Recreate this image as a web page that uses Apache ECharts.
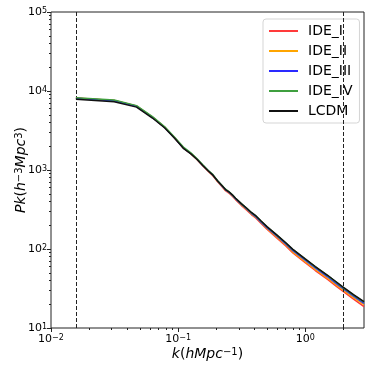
<!DOCTYPE html>
<html>
<head>
<meta charset="utf-8">
<script src="https://cdn.jsdelivr.net/npm/echarts@6/dist/echarts.min.js"></script>
<style>
  html, body { margin: 0; padding: 0; background: #fff; }
  #chart { width: 374px; height: 374px; }
</style>
</head>
<body>
<div id="chart"></div>
<script>
// wavenumbers k (h/Mpc)
const k = [0.0157, 0.0314, 0.0471, 0.0628, 0.0785, 0.0942, 0.110, 0.126, 0.141, 0.157,
  0.173, 0.188, 0.204, 0.220, 0.236, 0.251, 0.267, 0.283, 0.314, 0.345,
  0.377, 0.41, 0.45, 0.5, 0.6, 0.7, 0.8, 1.0, 1.2, 1.5, 1.75, 2.0, 2.4, 2.9];

const ideI = [8160, 7590, 6440, 4660, 3470, 2540, 1900, 1610, 1360, 1124,
  960, 847, 715, 624, 548, 511, 467, 422, 357, 312,
  273, 245, 210, 178, 137, 110, 89, 67, 53.4, 41.2, 33.9, 28.8, 23.2, 18.6];
const ideII = [8125, 7570, 6420, 4650, 3460, 2530, 1900, 1610, 1362, 1128,
  965, 853, 722, 632, 556, 519, 474, 429, 364, 319,
  279, 250, 215, 182, 141, 113, 91.5, 69, 55, 42.6, 35.2, 29.9, 24.2, 19.7];
const ideIII = [8085, 7520, 6400, 4640, 3450, 2530, 1905, 1615, 1370, 1135,
  972, 860, 728, 636, 561, 525, 479, 433, 368, 323,
  283, 255, 219, 186, 145, 117, 95, 72, 57.5, 44.5, 36.8, 31.2, 25.3, 20.5];
const ideIV = [8240, 7700, 6530, 4730, 3520, 2575, 1950, 1650, 1387, 1153,
  985, 873, 737, 646, 571, 533, 487, 440, 375, 329,
  289, 261, 225, 191, 149, 120, 98, 74.3, 59.3, 45.9, 38, 32.2, 26.1, 21.2];
const lcdm = [7850, 7330, 6250, 4550, 3400, 2500, 1883, 1600, 1360, 1130,
  970, 860, 730, 640, 565, 530, 485, 440, 375, 330,
  290, 262, 226, 192, 150, 121, 99, 75, 60, 46.5, 38.5, 32.7, 26.5, 21.5];

const names = ['IDE_I', 'IDE_II', 'IDE_III', 'IDE_IV', 'LCDM'];
const colors = ['#ff3a3a', '#ffa500', '#2a2aff', '#3f9f3f', '#111111'];

// axis ranges and ticks
const xMin = 0.01, xMax = 2.9;
const yMin = 10, yMax = 1e5;
const xMajor = [0.01, 0.1, 1];
const yMajor = [10, 100, 1000, 10000, 100000];
const kCut = [0.0157, 2.0];

// decades above the lower axis limit, so that 0 sits on the left / bottom edge
const lx = v => Math.log10(v / xMin);
const ly = v => Math.log10(v / yMin);

function minors(lo, hi, f) {
  const out = [];
  for (let d = Math.floor(Math.log10(lo)); d <= Math.ceil(Math.log10(hi)); d++) {
    for (let m = 2; m <= 9; m++) {
      const v = m * Math.pow(10, d);
      if (v > lo && v < hi) out.push(f(v));
    }
  }
  return out;
}

const FONT = 'DejaVu Sans';
const tickRich = {
  b: { fontSize: 11, fontFamily: FONT, color: '#000', padding: [5, 0, 0, 0], lineHeight: 11, verticalAlign: 'bottom' },
  s: { fontSize: 8, fontFamily: FONT, color: '#000', lineHeight: 8, verticalAlign: 'top' }
};
const pow = e => '{b|10}{s|' + String(Math.round(e)).replace('-', '\u2212') + '}';

const nameRich = {
  n: { fontSize: 14, fontFamily: FONT, fontStyle: 'italic', color: '#000', padding: [5, 0, 0, 0], lineHeight: 14, verticalAlign: 'bottom' },
  p: { fontSize: 14, fontFamily: FONT, color: '#000', padding: [5, 0, 0, 0], lineHeight: 14, verticalAlign: 'bottom' },
  s: { fontSize: 10, fontFamily: FONT, color: '#000', lineHeight: 10, verticalAlign: 'top' }
};

const valueSets = [ideI, ideII, ideIII, ideIV, lcdm];
const series = valueSets.map((vals, i) => ({
  name: names[i],
  type: 'line',
  xAxisIndex: 0,
  yAxisIndex: 0,
  data: k.map((kv, j) => [lx(kv), ly(vals[j])]),
  showSymbol: false,
  symbol: 'none',
  lineStyle: { width: 1.5, color: colors[i] },
  itemStyle: { color: colors[i] },
  z: 2 + i
}));
series[4].markLine = {
  silent: true,
  symbol: 'none',
  label: { show: false },
  lineStyle: { color: '#222', type: [4, 2], width: 1 },
  data: kCut.map(v => ({ xAxis: lx(v) }))
};

const option = {
  animation: false,
  backgroundColor: '#fff',
  grid: {
    left: 51, right: 10, top: 12, bottom: 46,
    outerBoundsMode: 'none',
    show: true, borderColor: '#222', borderWidth: 1, backgroundColor: 'transparent'
  },
  legend: {
    data: names,
    orient: 'vertical',
    left: 263,
    top: 19,
    padding: [5, 7, 5, 6],
    itemWidth: 29,
    itemHeight: 2,
    itemGap: 6,
    icon: 'rect',
    backgroundColor: 'rgba(255,255,255,0.85)',
    borderColor: '#d5d5d5',
    borderWidth: 1,
    borderRadius: 3,
    textStyle: { fontFamily: FONT, fontSize: 14, color: '#000', lineHeight: 14, padding: [0, 0, 0, 5] }
  },
  xAxis: [
    {
      type: 'value', min: 0, max: lx(xMax), position: 'bottom',
      splitLine: { show: false },
      axisLine: { show: false, onZero: true, onZeroAxisIndex: 0 },
      axisTick: { show: true, length: 4, lineStyle: { color: '#222' }, customValues: xMajor.map(lx) },
      axisLabel: { show: true, margin: 6, formatter: v => pow(v + Math.log10(xMin)), rich: tickRich, customValues: xMajor.map(lx) },
      name: '{n|k}{p|(}{n|hMpc}{s|\u22121}{p|)}',
      nameLocation: 'middle',
      nameGap: 19,
      nameMoveOverlap: false,
      nameTextStyle: { rich: nameRich }
    },
    {
      type: 'value', min: 0, max: lx(xMax), position: 'bottom',
      splitLine: { show: false },
      axisLine: { show: false, onZero: true, onZeroAxisIndex: 0 },
      axisTick: { show: true, length: 2, lineStyle: { color: '#222' }, customValues: minors(xMin, xMax, lx) },
      axisLabel: { show: false }
    }
  ],
  yAxis: [
    {
      type: 'value', min: 0, max: ly(yMax), position: 'left',
      splitLine: { show: false },
      axisLine: { show: false, onZero: true, onZeroAxisIndex: 0 },
      axisTick: { show: true, length: 4, lineStyle: { color: '#222' }, customValues: yMajor.map(ly) },
      axisLabel: { show: true, margin: 4, formatter: v => pow(v + Math.log10(yMin)), rich: tickRich, customValues: yMajor.map(ly) },
      name: '{n|Pk}{p|(}{n|h}{s|\u22123}{n|Mpc}{s|3}{p|)}',
      nameLocation: 'middle',
      nameGap: 23,
      nameMoveOverlap: false,
      nameTextStyle: { rich: nameRich }
    },
    {
      type: 'value', min: 0, max: ly(yMax), position: 'left',
      splitLine: { show: false },
      axisLine: { show: false, onZero: true, onZeroAxisIndex: 0 },
      axisTick: { show: true, length: 2, lineStyle: { color: '#222' }, customValues: minors(yMin, yMax, ly) },
      axisLabel: { show: false }
    }
  ],
  series: series
};

const chart = echarts.init(document.getElementById('chart'), null, { renderer: 'canvas' });
chart.setOption(option);
</script>
</body>
</html>
